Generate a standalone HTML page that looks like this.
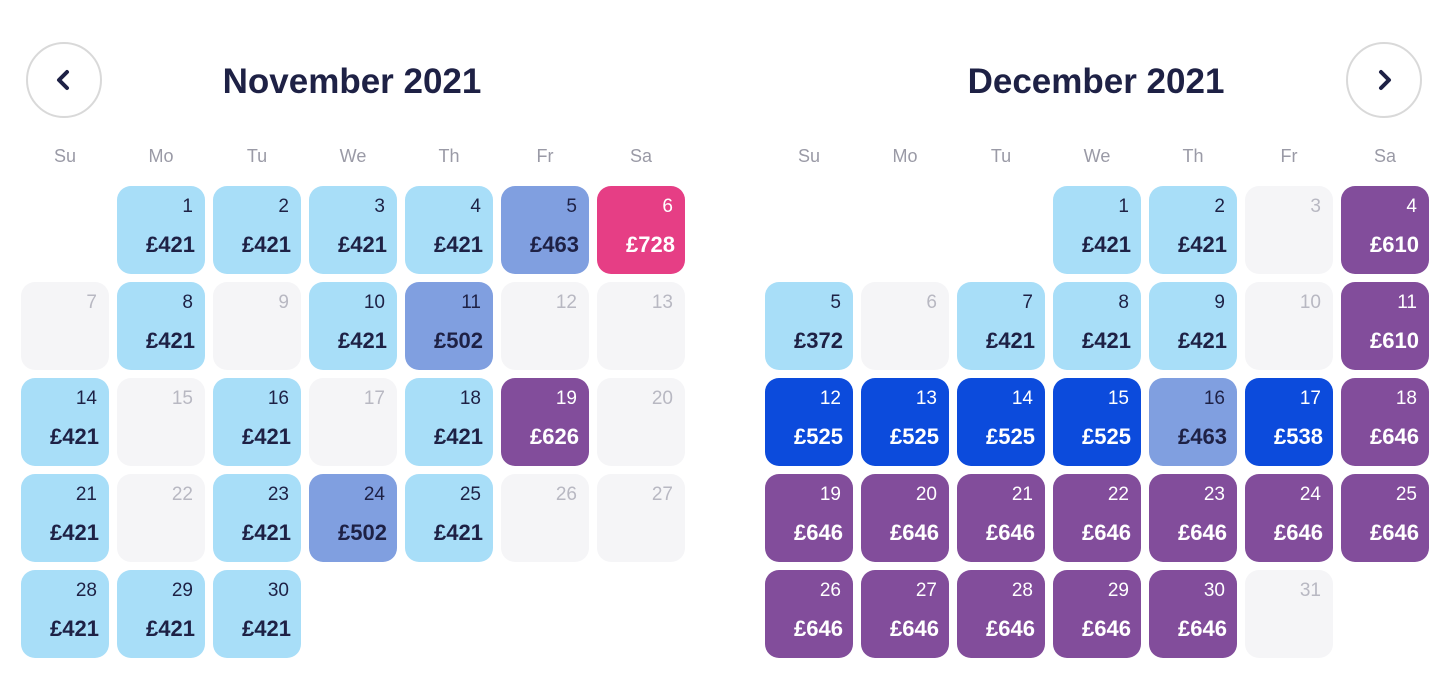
<!DOCTYPE html>
<html><head><meta charset="utf-8">
<style>
body{margin:0;width:1450px;height:700px;background:#fff;font-family:"Liberation Sans",sans-serif;overflow:hidden;position:relative}
.t{position:absolute;font-weight:bold;font-size:35px;color:#1e2145;top:62px;text-align:center;width:400px}
.nav{position:absolute;width:76px;height:76px;border:2px solid #d9d9d9;border-radius:50%;top:42px;box-sizing:border-box}
.nav svg{position:absolute;left:24px;top:24px}
.dh{position:absolute;top:146px;width:88px;text-align:center;font-size:18px;color:#9a9aa6}
.c{position:absolute;width:88px;height:88px;border-radius:14px;box-sizing:border-box}
.n{position:absolute;right:12px;top:10px;font-size:19px}
.p{position:absolute;right:10px;top:46px;font-size:22px;font-weight:bold}
</style></head><body>
<div class="nav" style="left:26px"><svg width="24" height="24" viewBox="0 0 24 24"><path d="M15 4 L7 12 L15 20" fill="none" stroke="#1e2145" stroke-width="4" stroke-linecap="round" stroke-linejoin="round"/></svg></div>
<div class="nav" style="left:1346px"><svg width="24" height="24" viewBox="0 0 24 24"><path d="M9 4 L17 12 L9 20" fill="none" stroke="#1e2145" stroke-width="4" stroke-linecap="round" stroke-linejoin="round"/></svg></div>
<div class="t" style="left:152px">November 2021</div>
<div class="t" style="left:896px">December 2021</div>
<script>
const dayNames=["Su","Mo","Tu","We","Th","Fr","Sa"];
const novStart=1, novDays=30;
const novPrices=[421,421,421,421,463,728,0,421,0,421,502,0,0,421,0,421,0,421,626,0,421,0,421,502,421,0,0,421,421,421];
const decStart=3, decDays=31;
const decPrices=[421,421,0,610,372,0,421,421,421,0,610,525,525,525,525,463,538,646,646,646,646,646,646,646,646,646,646,646,646,646,0];
function color(p){
  if(!p) return ["#f5f5f7","#b8b8c2"];
  if(p<=421) return ["#a8def8","#1e2145"];
  if(p<=502) return ["#809fe0","#1e2145"];
  if(p<=538) return ["#0c4bdc","#fff"];
  if(p<=646) return ["#824d9b","#fff"];
  return ["#e63e85","#fff"];
}
function month(x0,start,days,prices,tag){
  dayNames.forEach((d,i)=>{
    const e=document.createElement('div');e.className='dh';
    
    
    e.style.left=(x0+i*96)+'px';e.textContent=d;document.body.appendChild(e);
  });
  for(let d=1;d<=days;d++){
    const idx=start+d-1, col=idx%7, row=Math.floor(idx/7);
    const p=prices[d-1]; const [bg,fg]=color(p);
    const e=document.createElement('div');e.className='c';
    
    
    e.style.left=(x0+col*96)+'px';e.style.top=(186+row*96)+'px';e.style.background=bg;e.style.color=fg;
    e.innerHTML='<span class="n">'+d+'</span>'+(p?'<span class="p">£'+p+'</span>':'');
    document.body.appendChild(e);
  }
}
month(21,novStart,novDays,novPrices,'nov');
month(765,decStart,decDays,decPrices,'dec');
</script>
</body></html>
